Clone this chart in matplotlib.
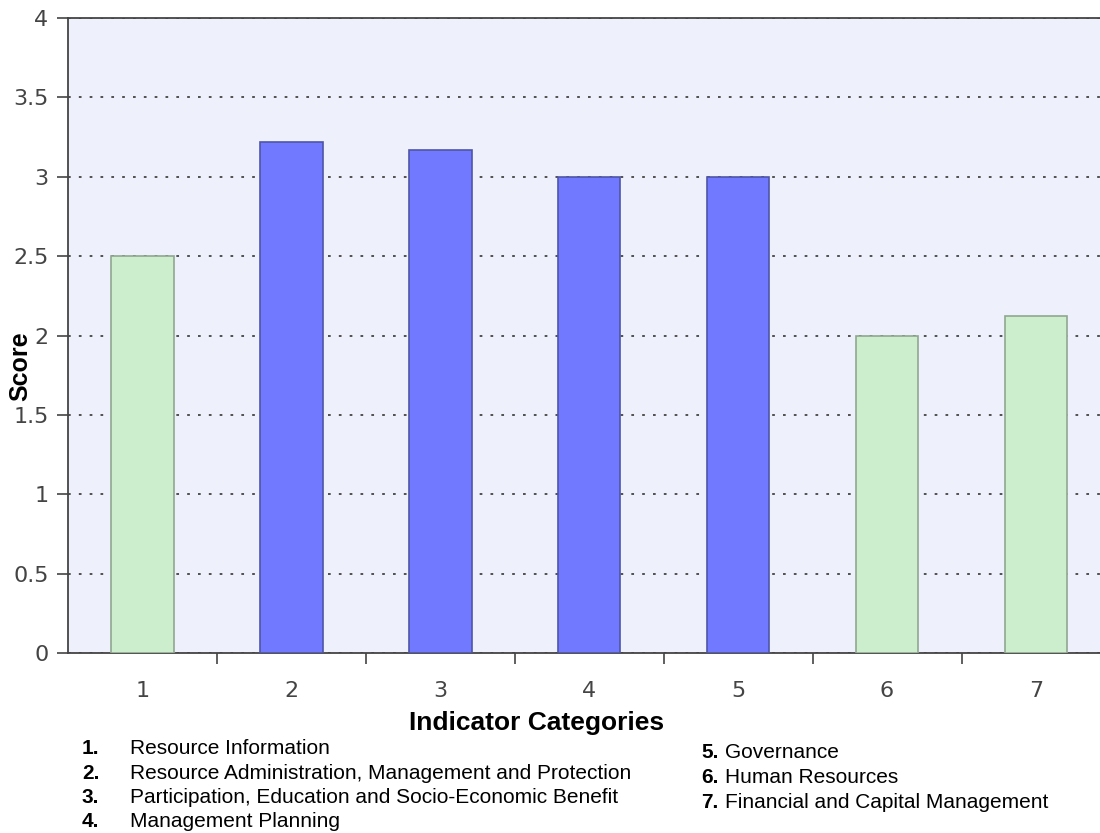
import matplotlib
matplotlib.use("Agg")
import matplotlib.pyplot as plt

categories = [1, 2, 3, 4, 5, 6, 7]
scores = [2.5, 3.22, 3.17, 3.0, 3.0, 2.0, 2.12]
bar_colors = ["#CCEECC", "#7079FF", "#7079FF", "#7079FF", "#7079FF", "#CCEECC", "#CCEECC"]
edge_colors = ["#8FA78F", "#4E56A6", "#4E56A6", "#4E56A6", "#4E56A6", "#8FA78F", "#8FA78F"]
yticks = [0, 0.5, 1, 1.5, 2, 2.5, 3, 3.5, 4]
ytick_labels = ["0", "0.5", "1", "1.5", "2", "2.5", "3", "3.5", "4"]
legend_left = ["Resource Information",
               "Resource Administration, Management and Protection",
               "Participation, Education and Socio-Economic Benefit",
               "Management Planning"]
legend_right = ["Governance", "Human Resources", "Financial and Capital Management"]

W, H = 1100.0, 833.0

fig = plt.figure(figsize=(11, 8.33), dpi=100)
ax = fig.add_axes([68 / W, 1 - 653 / H, 1 - 68 / W, 635 / H])
ax.set_facecolor("#EEF0FC")

ax.bar(categories, scores, width=0.42, color=bar_colors,
       edgecolor=edge_colors, linewidth=1.2, zorder=3)

ax.set_xlim(0.5, 7.43)
ax.set_ylim(0, 4)
ax.set_yticks(yticks)
ax.set_yticklabels(ytick_labels)
ax.yaxis.grid(True, linestyle=(0, (1.5, 4.5)), color="#444444", linewidth=1.3, zorder=1)

# category labels in the middle, tick marks on the boundaries
ax.set_xticks(categories)
ax.set_xticklabels([str(c) for c in categories])
ax.tick_params(axis="x", which="major", length=0, pad=20)
ax.set_xticks([c + 0.5 for c in categories[:-1]], minor=True)
ax.tick_params(axis="x", which="minor", length=8, width=1.2, color="#444444")
ax.tick_params(axis="y", length=8, width=1.2, color="#444444", pad=6)
for lab in ax.get_xticklabels() + ax.get_yticklabels():
    lab.set_fontsize(16)
    lab.set_color("#444444")

for s in ["left", "bottom", "top"]:
    ax.spines[s].set_color("#444444")
    ax.spines[s].set_linewidth(1.3)
ax.spines["right"].set_visible(False)

fig.text(20 / W, 1 - 366 / H, "Score", rotation=90, fontsize=18, fontweight="bold",
         ha="center", va="center", family="Liberation Sans")
fig.text(537 / W, 1 - 723 / H, "Indicator Categories", fontsize=19, fontweight="bold",
         ha="center", va="center", family="Liberation Sans")

for i, t in enumerate(legend_left):
    y = 1 - (749 + i * 24.3) / H
    fig.text(82 / W, y, "%d." % (i + 1), fontsize=15, fontweight="bold",
             va="center", family="Liberation Sans")
    fig.text(130 / W, y, t, fontsize=15, va="center", family="Liberation Sans")

for i, t in enumerate(legend_right):
    y = 1 - (753 + i * 24.5) / H
    fig.text(701 / W, y, "%d." % (i + 5), fontsize=15, fontweight="bold",
             va="center", family="Liberation Sans")
    fig.text(725 / W, y, t, fontsize=15, va="center", family="Liberation Sans")

fig.savefig("out.png", dpi=100)
